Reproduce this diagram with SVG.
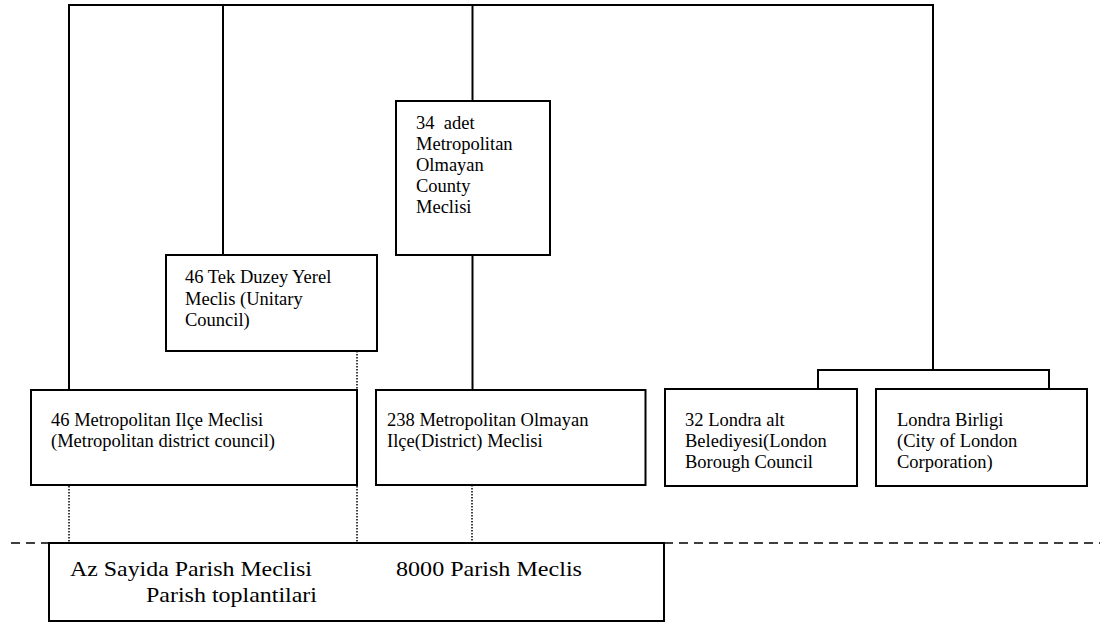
<svg xmlns="http://www.w3.org/2000/svg" width="1100" height="623" viewBox="0 0 1100 623">
<style>
.box{fill:#fff;stroke:#000;stroke-width:2}
.ln{fill:none;stroke:#000;stroke-width:2}
.dot{fill:none;stroke:#000;stroke-width:1.5;stroke-dasharray:1.5 1.5}
.dash{fill:none;stroke:#000;stroke-width:1.5;stroke-dasharray:9 6}
.t{font-family:"Liberation Serif","Times New Roman",serif;font-size:18.5px;fill:#000;white-space:pre}
.tb{font-family:"Liberation Serif","Times New Roman",serif;font-size:22px;fill:#000}
</style>
<rect width="1100" height="623" fill="#fff"/>
<g id="connectors">
<path class="ln" d="M69,390 V5 H933 V370"/>
<path class="ln" d="M223,5 V255"/>
<path class="ln" d="M472.5,5 V101"/>
<path class="ln" d="M472.5,255 V390"/>
<path class="ln" d="M818,389 V370 H1049 V389"/>
<path class="dot" d="M69,465 V543"/>
<path class="dot" d="M357,351 V543"/>
<path class="dot" d="M472,485 V543"/>
<path class="dash" d="M11,543 H49"/>
<path class="dash" d="M664,543 H1100"/>
</g>
<g id="county">
<rect class="box" x="396" y="101" width="154" height="154"/>
<text class="t" x="416" y="129" xml:space="preserve">34  adet</text>
<text class="t" x="416" y="150">Metropolitan</text>
<text class="t" x="416" y="171">Olmayan</text>
<text class="t" x="416" y="192">County</text>
<text class="t" x="416" y="213">Meclisi</text>
</g>
<g id="unitary">
<rect class="box" x="166" y="255" width="211" height="96"/>
<text class="t" x="185" y="283">46 Tek Duzey Yerel</text>
<text class="t" x="185" y="304.5">Meclis (Unitary</text>
<text class="t" x="185" y="325.5">Council)</text>
</g>
<g id="metro-district">
<rect class="box" x="31" y="390" width="326" height="95"/>
<text class="t" x="51" y="425.5">46 Metropolitan Ilçe Meclisi</text>
<text class="t" x="51" y="446.5">(Metropolitan district council)</text>
</g>
<g id="non-metro-district">
<rect class="box" x="376" y="390" width="269.5" height="95"/>
<text class="t" x="387" y="425.5">238 Metropolitan Olmayan</text>
<text class="t" x="387" y="446.5">Ilçe(District) Meclisi</text>
</g>
<g id="london-borough">
<rect class="box" x="665" y="389" width="192" height="97"/>
<text class="t" x="685" y="425.5">32 Londra alt</text>
<text class="t" x="685" y="446.5">Belediyesi(London</text>
<text class="t" x="685" y="467.5">Borough Council</text>
</g>
<g id="city-of-london">
<rect class="box" x="876" y="389" width="211" height="97"/>
<text class="t" x="897" y="425.5">Londra Birligi</text>
<text class="t" x="897" y="446.5">(City of London</text>
<text class="t" x="897" y="467.5">Corporation)</text>
</g>
<g id="parish">
<rect class="box" x="49" y="543" width="615" height="78"/>
<text class="tb" x="70" y="576" textLength="242" lengthAdjust="spacingAndGlyphs">Az Sayida Parish Meclisi</text>
<text class="tb" x="396" y="576" textLength="186" lengthAdjust="spacingAndGlyphs">8000 Parish Meclis</text>
<text class="tb" x="146" y="601.5" textLength="171" lengthAdjust="spacingAndGlyphs">Parish toplantilari</text>
</g>
</svg>
